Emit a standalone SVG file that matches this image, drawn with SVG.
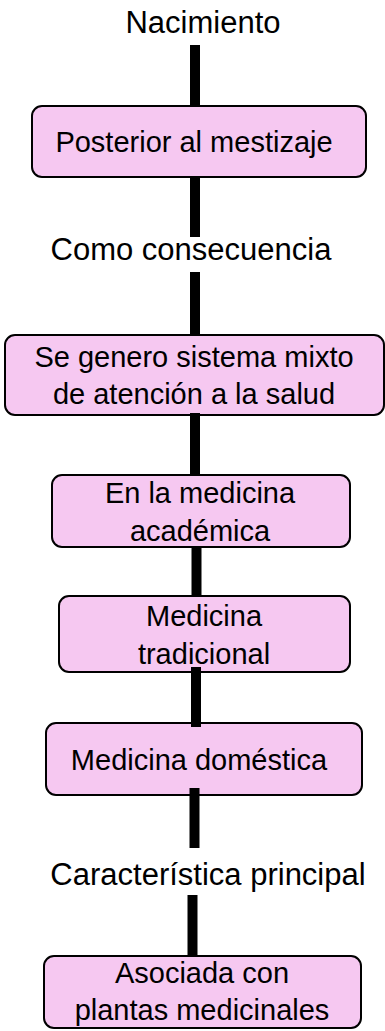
<svg xmlns="http://www.w3.org/2000/svg" width="385" height="1031" viewBox="0 0 385 1031">
<style>
.box{fill:#F6C8F1;stroke:#000;stroke-width:2}
.t{font-family:"Liberation Sans",Arial,sans-serif;font-size:29px;fill:#000;text-anchor:middle}
.lbl{font-family:"Liberation Sans",Arial,sans-serif;font-size:31px;fill:#000;text-anchor:middle}
.c{stroke:#000;stroke-width:10;fill:none}
</style>
<rect width="385" height="1031" fill="#fff"/>
<g id="label-nacimiento"><text class="lbl" x="203" y="33">Nacimiento</text></g>
<g id="node-posterior">
<rect class="box" x="32" y="106" width="334" height="71" rx="10"/>
<text class="t" x="194" y="152">Posterior al mestizaje</text>
</g>
<g id="label-consecuencia"><text class="lbl" x="191" y="260">Como consecuencia</text></g>
<g id="node-sistema">
<rect class="box" x="5" y="335" width="379" height="80" rx="10"/>
<text class="t" x="194" y="367">Se genero sistema mixto</text>
<text class="t" x="194" y="404">de atención a la salud</text>
</g>
<g id="node-academica">
<rect class="box" x="52" y="475" width="298" height="72" rx="10"/>
<text class="t" x="200" y="503">En la medicina</text>
<text class="t" x="200" y="541">académica</text>
</g>
<g id="node-tradicional">
<rect class="box" x="59" y="596" width="291" height="76" rx="10"/>
<text class="t" x="204" y="626">Medicina</text>
<text class="t" x="204" y="664">tradicional</text>
</g>
<g id="node-domestica">
<rect class="box" x="46" y="723" width="316" height="72" rx="10"/>
<text class="t" x="199" y="770">Medicina doméstica</text>
</g>
<g id="label-caracteristica"><text class="lbl" x="208" y="885">Característica principal</text></g>
<g id="node-plantas">
<rect class="box" x="44" y="956" width="317" height="72" rx="10"/>
<text class="t" x="202" y="983">Asociada con</text>
<text class="t" x="202" y="1020">plantas medicinales</text>
</g>
<g id="connectors">
<line class="c" x1="195" y1="45" x2="195" y2="105"/>
<line class="c" x1="195" y1="177" x2="195" y2="237"/>
<line class="c" x1="195" y1="272" x2="195" y2="334"/>
<line class="c" x1="195" y1="413" x2="195" y2="475"/>
<line class="c" x1="196.5" y1="547" x2="196.5" y2="595"/>
<line class="c" x1="196" y1="667" x2="196" y2="727"/>
<line class="c" x1="194.5" y1="788" x2="194.5" y2="848"/>
<line class="c" x1="192.5" y1="895" x2="192.5" y2="955"/>
</g>
</svg>
